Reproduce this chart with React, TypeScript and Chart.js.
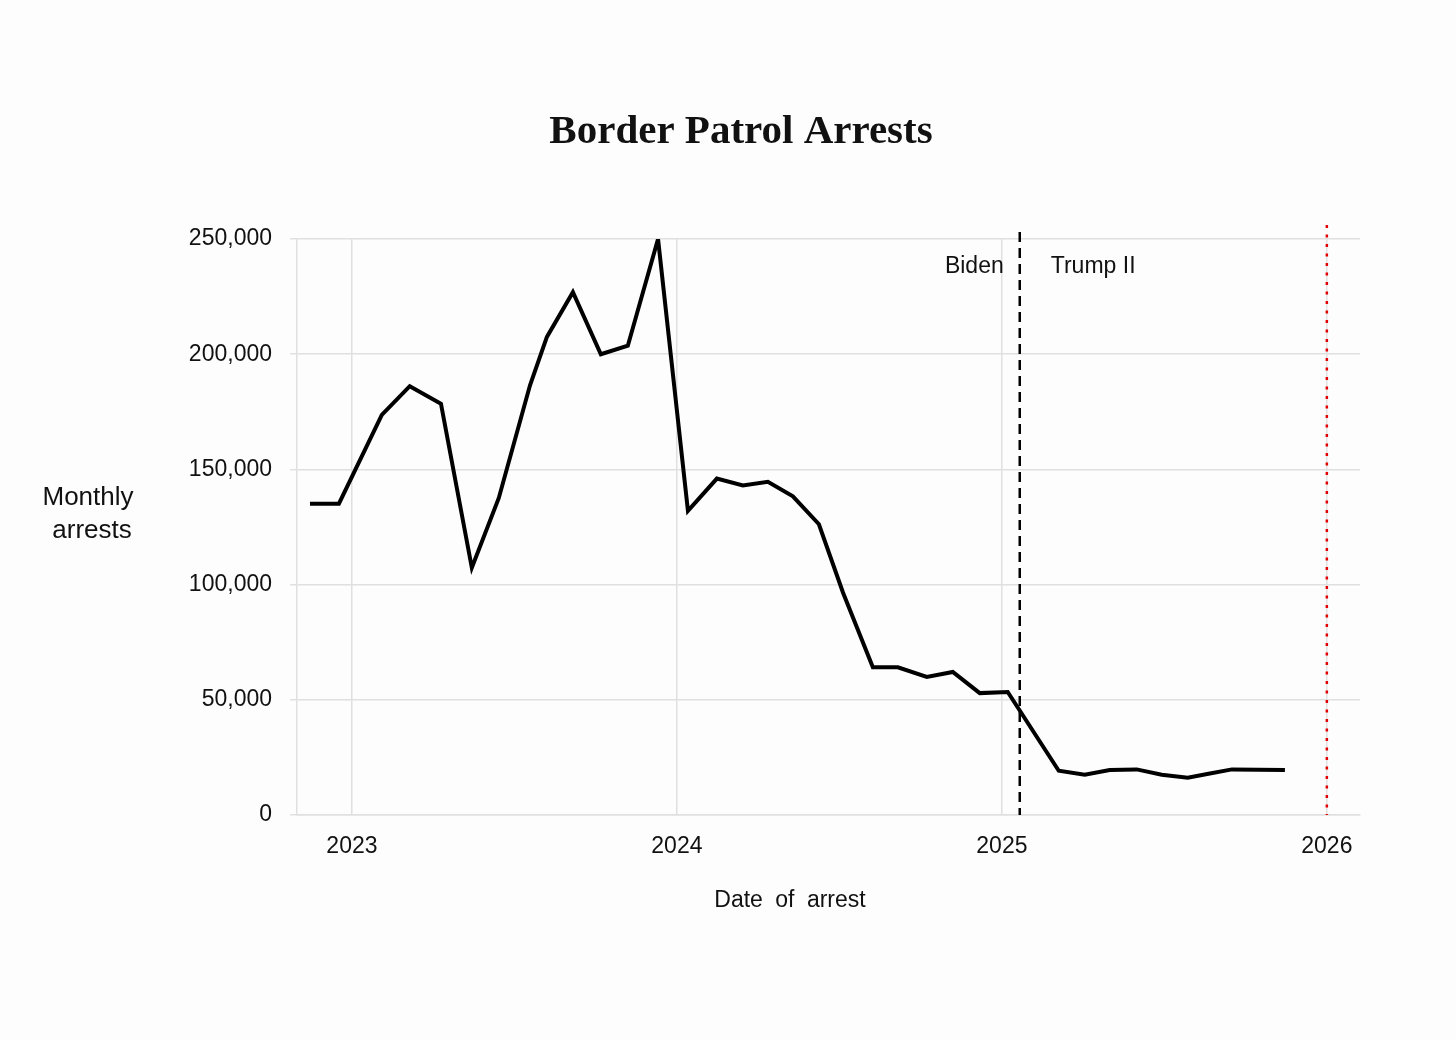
import React, { useEffect, useRef } from "react";
import { Chart, registerables } from "chart.js";

Chart.register(...registerables);

const arrestDates = [
  2022.871, 2022.96, 2023.092, 2023.178, 2023.274, 2023.369, 2023.452, 2023.548,
  2023.6, 2023.68, 2023.766, 2023.849, 2023.942, 2024.034, 2024.123, 2024.203,
  2024.28, 2024.357, 2024.437, 2024.511, 2024.603, 2024.68, 2024.769, 2024.849,
  2024.932, 2025.018, 2025.175, 2025.255, 2025.332, 2025.415, 2025.492, 2025.572,
  2025.64, 2025.708, 2025.788, 2025.871,
];

// Monthly Border Patrol arrests
const monthlyArrests = [
  135100, 135100, 173700, 186100, 178500, 107300, 137600, 186500,
  207500, 226900, 200000, 203700, 250000, 132000, 146000, 143000,
  144600, 138300, 126200, 96600, 64100, 64100, 59900, 62100,
  52900, 53400, 19200, 17500, 19500, 19800, 17500, 16200,
  18000, 19800, 19600, 19500,
];

const yearTicks = [2023, 2024, 2025, 2026];
const yTickValues = [0, 50000, 100000, 150000, 200000, 250000];
const inaugurationDate = 2025.055;
const markerDate = 2026;
const eraLabels = ["Biden", "Trump II"];
const chartTitle = "Border Patrol Arrests";
const xAxisTitle = "Date of arrest";
const yAxisTitle = ["Monthly", "arrests"];

const SANS = "'Liberation Sans', Arial, sans-serif";
const SERIF = "'Liberation Serif', 'Times New Roman', serif";
const GRID = "#e0e0e0";
const TEXT = "#111111";

const overlay = {
  id: "overlay",
  beforeDatasetsDraw(chart: any) {
    const { ctx, chartArea, scales } = chart;
    const xs = scales.x;
    ctx.save();
    // Biden / Trump II divider
    const xd = xs.getPixelForValue(inaugurationDate);
    ctx.strokeStyle = "#000";
    ctx.lineWidth = 2.5;
    ctx.setLineDash([10, 6]);
    ctx.beginPath();
    ctx.moveTo(xd, chartArea.top - 7);
    ctx.lineTo(xd, chartArea.bottom);
    ctx.stroke();
    // red dotted marker
    const xr = xs.getPixelForValue(markerDate);
    ctx.strokeStyle = "#e00000";
    ctx.lineWidth = 2.5;
    ctx.setLineDash([3, 6.5]);
    ctx.beginPath();
    ctx.moveTo(xr, chartArea.top - 14);
    ctx.lineTo(xr, chartArea.bottom);
    ctx.stroke();
    ctx.restore();
  },
  afterDraw(chart: any) {
    const { ctx, chartArea, scales } = chart;
    const xs = scales.x;
    const xd = xs.getPixelForValue(inaugurationDate);
    ctx.save();
    ctx.fillStyle = TEXT;
    ctx.textBaseline = "middle";
    // era labels
    ctx.font = `23px ${SANS}`;
    ctx.textAlign = "right";
    ctx.fillText(eraLabels[0], xd - 16, chartArea.top + 28);
    ctx.textAlign = "left";
    ctx.fillText(eraLabels[1], xd + 31, chartArea.top + 28);
    // title
    ctx.font = `bold 41px ${SERIF}`;
    ctx.textAlign = "center";
    ctx.fillText(chartTitle, 741, 132);
    // x axis title
    ctx.font = `23px ${SANS}`;
    (ctx as any).wordSpacing = "6px";
    ctx.fillText(xAxisTitle, 790, chartArea.bottom + 86);
    (ctx as any).wordSpacing = "0px";
    // y axis title
    ctx.font = `26px ${SANS}`;
    ctx.fillText(yAxisTitle[0], 88, 498);
    ctx.fillText(yAxisTitle[1], 92, 531);
    ctx.restore();
  },
};

export default function App() {
  const ref = useRef<HTMLCanvasElement>(null);
  useEffect(() => {
    const chart = new Chart(ref.current as HTMLCanvasElement, {
      type: "line",
      data: {
        datasets: [
          {
            data: arrestDates.map((d, i) => ({ x: d, y: monthlyArrests[i] })),
            borderColor: "#000",
            borderWidth: 4,
            pointRadius: 0,
            tension: 0,
            fill: false,
            borderJoinStyle: "miter",
          } as any,
        ],
      },
      options: {
        animation: false,
        responsive: false,
        maintainAspectRatio: false,
        layout: { padding: { top: 239, right: 96, left: 0, bottom: 0 } },
        plugins: {
          legend: { display: false },
          tooltip: { enabled: false },
          title: { display: false },
        },
        scales: {
          x: {
            type: "linear",
            min: 2022.831,
            max: 2026.102,
            afterBuildTicks: (s: any) => {
              s.ticks = yearTicks.map((v) => ({ value: v }));
            },
            afterFit: (s: any) => {
              s.height = 225;
            },
            ticks: {
              callback: (v: any) => String(v),
              font: { family: SANS, size: 23 },
              color: TEXT,
              padding: 18,
              maxRotation: 0,
              autoSkip: false,
            },
            grid: { color: GRID, lineWidth: 1.5, drawTicks: false },
            border: { display: true, color: GRID, width: 1.5 },
          },
          y: {
            type: "linear",
            min: 0,
            max: 250000,
            afterBuildTicks: (s: any) => {
              s.ticks = yTickValues.map((v) => ({ value: v }));
            },
            afterFit: (s: any) => {
              s.width = 297;
            },
            ticks: {
              callback: (v: any) => Number(v).toLocaleString("en-US"),
              font: { family: SANS, size: 23 },
              color: TEXT,
              padding: 18,
            },
            grid: { color: GRID, lineWidth: 1.5, drawTicks: true, tickLength: 7 },
            border: { display: true, color: GRID, width: 1.5 },
          },
        },
      } as any,
      plugins: [overlay],
    });
    return () => chart.destroy();
  }, []);
  return (
    <div
      style={{
        position: "fixed",
        left: 0,
        top: 0,
        width: 1456,
        height: 1040,
        background: "#fdfdfd",
      }}
    >
      <canvas
        ref={ref}
        width={1456}
        height={1040}
        style={{ width: 1456, height: 1040, display: "block" }}
      />
    </div>
  );
}
